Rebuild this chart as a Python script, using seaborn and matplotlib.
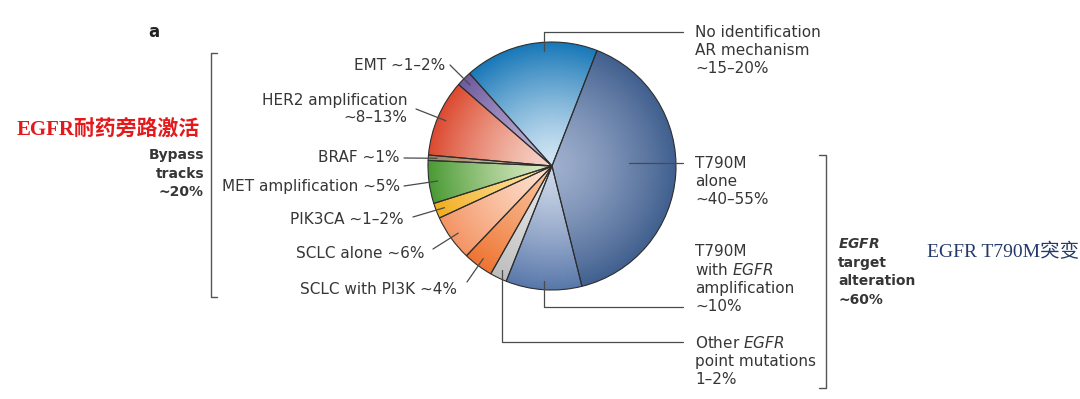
import numpy as np
import matplotlib
matplotlib.use("Agg")
import matplotlib.pyplot as plt
import seaborn as sns

# slices, counter-clockwise, starting at the top-right boundary of the pie
mechanisms = ["No identification", "EMT", "HER2 amplification", "BRAF",
              "MET amplification", "PIK3CA", "SCLC alone", "SCLC with PI3K",
              "Other EGFR point mutations", "T790M with EGFR amplification",
              "T790M alone"]
shares = [17.5, 2.0, 10.0, 0.7, 5.6, 2.0, 6.0, 3.9, 2.2, 9.9, 40.2]
center_colors = ["#d3e6f4", "#c4b8dc", "#f7d6c9", "#d9c9ae", "#dcebc6", "#fde6a8",
                 "#fde1cf", "#f9c29a", "#e8e8e8", "#cdd7e8", "#9fafcd"]
rim_colors = ["#1878b8", "#6e5a9e", "#dc4a30", "#9c8260", "#4a9a34", "#f2ad1e",
              "#f49464", "#ee7432", "#bdbdbd", "#5877aa", "#41608f"]

left_labels = {
    "EMT": "EMT ~1–2%",
    "HER2 amplification": "HER2 amplification\n~8–13%",
    "BRAF": "BRAF ~1%",
    "MET amplification": "MET amplification ~5%",
    "PIK3CA": "PIK3CA ~1–2%",
    "SCLC alone": "SCLC alone ~6%",
    "SCLC with PI3K": "SCLC with PI3K ~4%",
}
right_labels = {
    "No identification": "No identification\nAR mechanism\n~15–20%",
    "T790M alone": "T790M\nalone\n~40–55%",
    "T790M with EGFR amplification": "T790M\nwith $\\mathit{EGFR}$\namplification\n~10%",
    "Other EGFR point mutations": "Other $\\mathit{EGFR}$\npoint mutations\n1–2%",
}
bypass_text = "Bypass\ntracks\n~20%"
target_text = "$\\mathbfit{EGFR}$\ntarget\nalteration\n~60%"
red_note = "EGFR耐药旁路激活"
blue_note = "EGFR T790M突变"

W, H = 1080, 399
CX, CY, R = 552, H - 166, 124
TXT = "#363636"
LINE = "#4a4a4a"


def Y(y):
    """image row -> data y"""
    return H - y


sns.set_theme(style="white")
plt.rcParams["font.family"] = ["DejaVu Sans", "Noto Sans CJK SC"]
plt.rcParams["mathtext.fontset"] = "custom"
plt.rcParams["mathtext.rm"] = "DejaVu Sans"
plt.rcParams["mathtext.it"] = "DejaVu Sans:italic"
plt.rcParams["mathtext.bf"] = "DejaVu Sans:bold"
plt.rcParams["mathtext.bfit"] = "DejaVu Sans:italic:bold"

fig = plt.figure(figsize=(W / 100, H / 100), dpi=100)
ax = fig.add_axes([0, 0, 1, 1])

wedges, _ = ax.pie(shares, startangle=68.7, counterclock=True, center=(CX, CY),
                   radius=R, wedgeprops=dict(edgecolor="#2e2e2e", linewidth=0.8))

# radial shading inside every wedge
xs = np.linspace(CX - R, CX + R, 400)
ys = np.linspace(CY - R, CY + R, 400)
gx, gy = np.meshgrid(xs, ys)
rr = np.clip(np.hypot(gx - CX, gy - CY) / R, 0, 1) ** 1.3
for w, c0, c1 in zip(wedges, center_colors, rim_colors):
    cmap = sns.blend_palette([c0, c1], as_cmap=True)
    im = ax.imshow(rr, cmap=cmap, vmin=0, vmax=1, origin="lower",
                   extent=(CX - R, CX + R, CY - R, CY + R),
                   interpolation="bilinear", zorder=1)
    im.set_clip_path(w)
    w.set_facecolor("none")
    w.set_zorder(3)

# where along each wedge the leader line attaches (0..1 of its angle)
attach = {"No identification": 0.4, "T790M alone": 0.54}


def anchor(name, frac_r=0.93):
    w = wedges[mechanisms.index(name)]
    f = attach.get(name, 0.5)
    a = np.deg2rad(w.theta1 + f * (w.theta2 - w.theta1))
    return CX + frac_r * R * np.cos(a), CY + frac_r * R * np.sin(a)


# left side labels
left_pos = {
    "EMT": (445, 65, 450, 65),
    "HER2 amplification": (407, 109, 416, 109),
    "BRAF": (400, 158, 404, 158),
    "MET amplification": (400, 187, 404, 186),
    "PIK3CA": (404, 219, 413, 217),
    "SCLC alone": (425, 253, 433, 249),
    "SCLC with PI3K": (457, 289, 467, 282),
}
for name, text in left_labels.items():
    tx, ty, lx, ly = left_pos[name]
    ax.text(tx, Y(ty), text, ha="right", va="center", multialignment="right",
            fontsize=11, color=TXT, linespacing=1.22)
    ax_, ay_ = anchor(name)
    ax.plot([lx, ax_], [Y(ly), ay_], color=LINE, lw=0.9, zorder=4)

# right side labels with elbow leaders
LX_END, TX = 683, 695
right_pos = {
    "No identification": (50.5, 32),
    "T790M alone": (181.5, None),
    "T790M with EGFR amplification": (279, 307),
    "Other EGFR point mutations": (361, 342),
}
for name, text in right_labels.items():
    ty, ly = right_pos[name]
    ax.text(TX, Y(ty), text, ha="left", va="center", fontsize=11, color=TXT,
            linespacing=1.22)
    if name == "T790M alone":
        px, py = anchor(name, 0.62)
        ax.plot([px, LX_END], [py, py], color=LINE, lw=0.9, zorder=4)
    else:
        px, py = anchor(name, 0.93)
        ax.plot([px, px, LX_END], [py, Y(ly), Y(ly)], color=LINE, lw=0.9, zorder=4)

# brackets
bk = "#555555"
ax.plot([217, 211, 211, 217], [Y(53), Y(53), Y(297), Y(297)], color=bk, lw=1.0)
ax.plot([819, 826, 826, 819], [Y(155), Y(155), Y(388), Y(388)], color=bk, lw=1.0)

ax.text(204, Y(173.5), bypass_text, ha="right", va="center", multialignment="right",
        fontsize=10, fontweight="bold", color=TXT, linespacing=1.4)
ax.text(838, Y(272), target_text, ha="left", va="center", fontsize=10,
        fontweight="bold", color=TXT, linespacing=1.4)

ax.text(154, Y(32), "a", ha="center", va="center", fontsize=12,
        fontweight="bold", color="#222222")

ax.text(17, Y(130), red_note, ha="left", va="center", fontsize=15, fontweight="bold",
        color="#e3191c", family=["Liberation Serif", "Noto Sans CJK SC"])
ax.text(927, Y(252), blue_note, ha="left", va="center", fontsize=14,
        color="#24396b", family=["Liberation Serif", "Noto Sans CJK SC"])

ax.set_xlim(0, W)
ax.set_ylim(0, H)
ax.set_aspect("auto")
ax.axis("off")

fig.savefig("out.png", dpi=100)
